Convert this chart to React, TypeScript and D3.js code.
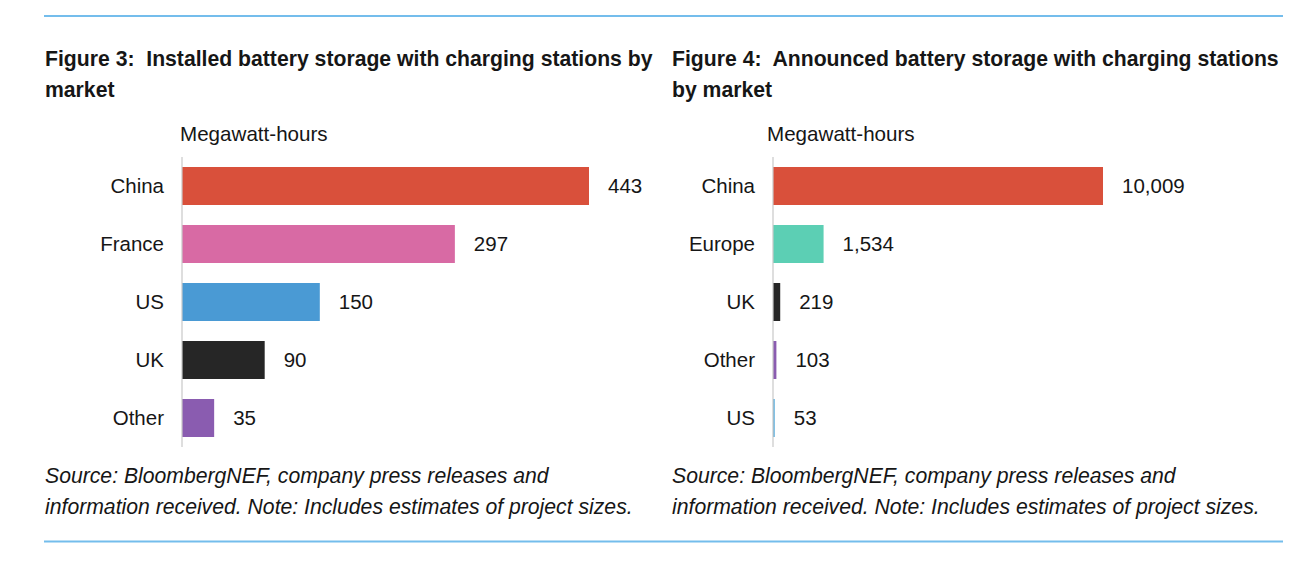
import React from "react";
import * as d3 from "d3";

const W = 1305;
const H = 562;

// Figure 3 data
const installedMarkets = ["China", "France", "US", "UK", "Other"];
const installedValues = [443, 297, 150, 90, 35];
const installedColors = ["#d9503b", "#d86aa4", "#4a9ad4", "#262626", "#8a5cb0"];

// Figure 4 data
const announcedMarkets = ["China", "Europe", "UK", "Other", "US"];
const announcedValues = [10009, 1534, 219, 103, 53];
const announcedColors = ["#d9503b", "#5ccfb4", "#262626", "#8a5cb0", "#5aaedc"];

const unitLabel = "Megawatt-hours";
const titles3 = ["Figure 3:  Installed battery storage with charging stations by", "market"];
const titles4 = ["Figure 4:  Announced battery storage with charging stations", "by market"];
const sourceLines = [
  "Source: BloombergNEF, company press releases and",
  "information received. Note: Includes estimates of project sizes.",
];

const FONT = "'Liberation Sans', Arial, Helvetica, sans-serif";
const TEXT = "#161616";

interface PanelProps {
  left: number;
  axisX: number;
  unitX: number;
  barMaxX: number;
  markets: string[];
  values: number[];
  colors: string[];
  titles: string[];
  format: (v: number) => string;
}

function Panel({ left, axisX, unitX, barMaxX, markets, values, colors, titles, format }: PanelProps) {
  const x = d3
    .scaleLinear()
    .domain([0, d3.max(values) as number])
    .range([axisX, barMaxX]);
  const y = d3
    .scaleBand<string>()
    .domain(markets)
    .range([157, 447])
    .paddingInner(0.345)
    .paddingOuter(0.1725);
  const bw = y.bandwidth();

  return (
    <g>
      {titles.map((t, i) => (
        <text
          key={i}
          x={left}
          y={66 + i * 31}
          fontFamily={FONT}
          fontWeight="bold"
          fontSize={21.2}
          fill={TEXT}
          style={{ whiteSpace: "pre" }}
        >
          {t}
        </text>
      ))}
      <text x={unitX} y={141} fontFamily={FONT} fontSize={20.6} fill={TEXT}>
        {unitLabel}
      </text>
      {markets.map((m, i) => {
        const yy = y(m) as number;
        const w = Math.max(x(values[i]) - x(0), 1.5);
        return (
          <g key={m}>
            <rect x={x(0)} y={yy} width={w} height={bw} fill={colors[i]} />
            <text
              x={axisX - 18}
              y={yy + bw / 2}
              dy="0.36em"
              textAnchor="end"
              fontFamily={FONT}
              fontSize={20.5}
              fill={TEXT}
            >
              {m}
            </text>
            <text
              x={x(values[i]) + 19}
              y={yy + bw / 2}
              dy="0.36em"
              fontFamily={FONT}
              fontSize={20.5}
              fill={TEXT}
            >
              {format(values[i])}
            </text>
          </g>
        );
      })}
      <line x1={axisX} x2={axisX} y1={157} y2={447} stroke="#c8c8c8" strokeWidth={1.2} />
      {sourceLines.map((s, i) => (
        <text
          key={i}
          x={left}
          y={483 + i * 31}
          fontFamily={FONT}
          fontStyle="italic"
          fontSize={21.2}
          fill={TEXT}
        >
          {s}
        </text>
      ))}
    </g>
  );
}

export default function App() {
  const fmt = d3.format(",");
  return (
    <svg
      width={W}
      height={H}
      viewBox={`0 0 ${W} ${H}`}
      style={{ position: "absolute", left: 0, top: 0, background: "#ffffff" }}
    >
      <rect width={W} height={H} fill="#ffffff" />
      <line x1={44} x2={1283} y1={16} y2={16} stroke="#74bdec" strokeWidth={1.8} />
      <line x1={44} x2={1283} y1={541.5} y2={541.5} stroke="#74bdec" strokeWidth={1.8} />
      <Panel
        left={45}
        axisX={182}
        unitX={180}
        barMaxX={589}
        markets={installedMarkets}
        values={installedValues}
        colors={installedColors}
        titles={titles3}
        format={fmt}
      />
      <Panel
        left={672}
        axisX={773}
        unitX={767}
        barMaxX={1103}
        markets={announcedMarkets}
        values={announcedValues}
        colors={announcedColors}
        titles={titles4}
        format={fmt}
      />
    </svg>
  );
}
